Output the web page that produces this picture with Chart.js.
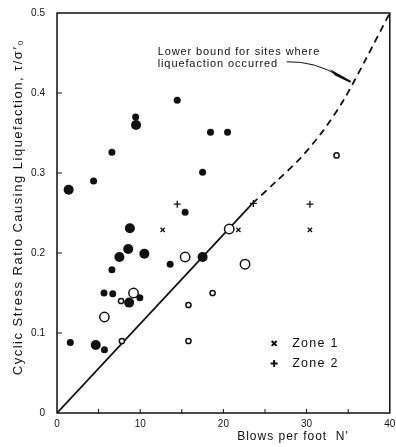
<!DOCTYPE html>
<html>
<head>
<meta charset="utf-8">
<script src="https://cdn.jsdelivr.net/npm/chart.js@4/dist/chart.umd.min.js"></script>
<style>
  html, body { margin: 0; padding: 0; background: #fff; }
  #wrap { width: 396px; height: 447px; }
</style>
</head>
<body>
<div id="wrap"><canvas id="chart" width="396" height="447"></canvas></div>
<script>
/* data: [N', tau/sigma'] */
const filledSmall = [[4.4, 0.29], [6.6, 0.326], [9.45, 0.37], [14.45, 0.391], [18.45, 0.351], [20.5, 0.351],
  [17.5, 0.301], [15.4, 0.251], [6.6, 0.179], [13.6, 0.186], [5.65, 0.15], [6.7, 0.149], [9.96, 0.144],
  [1.6, 0.088], [5.7, 0.079]];
const filledLarge = [[1.4, 0.279], [9.5, 0.36], [8.76, 0.231], [8.56, 0.205], [7.5, 0.195], [10.5, 0.199],
  [8.67, 0.138], [4.66, 0.085], [17.5, 0.195]];
const openSmall = [[7.7, 0.14], [7.8, 0.09], [18.7, 0.15], [15.8, 0.135], [15.8, 0.09], [33.6, 0.322]];
const openLarge = [[15.4, 0.195], [9.2, 0.15], [5.7, 0.12], [20.7, 0.23], [22.6, 0.186]];
const zone1 = [[12.7, 0.229], [21.8, 0.229], [30.4, 0.229]];
const zone2 = [[14.45, 0.261], [30.4, 0.261], [23.6, 0.262]];
const boundSolid = [[0, 0], [23.5, 0.262]];
const boundDashed = [[23.5, 0.262], [26.4, 0.29], [29.2, 0.318], [32, 0.353], [34.5, 0.392], [37, 0.44], [40, 0.5]];

const xTickValues = [0, 10, 20, 30, 40];
const xTickLabels = ['0', '10', '20', '30', '40'];
const xMarks = [5, 10, 15, 20, 25, 30, 35];
const yTickValues = [0, 0.1, 0.2, 0.3, 0.4, 0.5];
const yTickLabels = ['0', '0.1', '0.2', '0.3', '0.4', '0.5'];
const legendLabels = ['Zone 1', 'Zone 2'];
const noteLines = ['Lower bound for sites where', 'liquefaction occurred'];
const xTitle = "Blows per foot  N'";
const yTitle = 'Cyclic Stress Ratio Causing Liquefaction, \u03C4/\u03C3\u2032\u2080';

const ink = '#111';
const font = '"Liberation Sans", Arial, sans-serif';
const pts = arr => arr.map(p => ({ x: p[0], y: p[1] }));

/* ✅ FRAME, INNER TICKS, TITLES, NOTE, LEGEND */
const decor = {
  id: 'decor',
  afterDraw(chart) {
    const { ctx, chartArea: a, scales: { x, y } } = chart;
    ctx.save();
    ctx.strokeStyle = ink;
    ctx.fillStyle = ink;
    ctx.lineWidth = 1.5;
    ctx.strokeRect(a.left, a.top, a.right - a.left, a.bottom - a.top);

    ctx.lineWidth = 1;
    ctx.beginPath();
    xMarks.forEach(v => {
      const px = x.getPixelForValue(v);
      ctx.moveTo(px, a.bottom); ctx.lineTo(px, a.bottom - 4);
    });
    yTickValues.slice(1, -1).forEach(v => {
      const py = y.getPixelForValue(v);
      ctx.moveTo(a.left, py); ctx.lineTo(a.left + 5, py);
    });
    ctx.stroke();

    // axis titles
    ctx.letterSpacing = '1px';
    ctx.font = '12px ' + font;
    ctx.textAlign = 'center';
    ctx.textBaseline = 'middle';
    ctx.fillText(xTitle, 293, 437);
    ctx.save();
    ctx.translate(18, 207);
    ctx.rotate(-Math.PI / 2);
    ctx.letterSpacing = '1.5px';
    ctx.font = '13px ' + font;
    ctx.fillText(yTitle, 0, 0);
    ctx.restore();

    // note with leader arrow to the dashed bound
    ctx.letterSpacing = '0.9px';
    ctx.font = '11px ' + font;
    ctx.textAlign = 'left';
    const nx = x.getPixelForValue(12.1);
    noteLines.forEach((t, i) => ctx.fillText(t, nx, y.getPixelForValue(0.451) + i * 12));
    const sx = x.getPixelForValue(27.6), sy = y.getPixelForValue(0.439);
    const ex = x.getPixelForValue(35.3), ey = y.getPixelForValue(0.414);
    ctx.lineWidth = 1;
    ctx.beginPath();
    ctx.moveTo(sx, sy);
    ctx.quadraticCurveTo(sx + 28, sy - 1, ex - 10, ey - 5);
    ctx.stroke();
    ctx.beginPath();
    ctx.moveTo(ex, ey);
    ctx.lineTo(ex - 17, ey - 9.5);
    ctx.lineTo(ex - 15, ey - 7);
    ctx.closePath();
    ctx.lineWidth = 2;
    ctx.stroke();

    // legend
    ctx.letterSpacing = '1.3px';
    ctx.font = '12.5px ' + font;
    const lx = x.getPixelForValue(26.1);
    const styles = ['crossRot', 'cross'];
    legendLabels.forEach((t, i) => {
      const ly = y.getPixelForValue(0.087) + i * 20;
      Chart.helpers.drawPoint(ctx, { pointStyle: styles[i], radius: 3.5, borderWidth: 1.3 }, lx, ly);
      ctx.fillText(t, lx + 18, ly);
    });
    ctx.restore();
  }
};

new Chart(document.getElementById('chart'), {
  type: 'scatter',
  data: {
    datasets: [
      { data: pts(boundSolid), showLine: true, borderColor: ink, borderWidth: 1.8, pointRadius: 0, order: 10 },
      { data: pts(boundDashed), showLine: true, borderColor: ink, borderWidth: 1.8, borderDash: [7, 5],
        tension: 0.3, pointRadius: 0, order: 10 },
      { data: pts(filledSmall), pointRadius: 3.5, backgroundColor: ink, borderColor: ink, borderWidth: 0, order: 1 },
      { data: pts(filledLarge), pointRadius: 5, backgroundColor: ink, borderColor: ink, borderWidth: 0, order: 1 },
      { data: pts(openSmall), pointRadius: 2.6, backgroundColor: '#fff', borderColor: ink, borderWidth: 1.5, order: 1 },
      { data: pts(openLarge), pointRadius: 4.7, backgroundColor: '#fff', borderColor: ink, borderWidth: 1.5, order: 1 },
      { data: pts(zone1), pointStyle: 'crossRot', pointRadius: 3, borderColor: ink, borderWidth: 1.3, order: 1 },
      { data: pts(zone2), pointStyle: 'cross', pointRadius: 3.5, borderColor: ink, borderWidth: 1.3, order: 1 }
    ]
  },
  options: {
    responsive: false,
    animation: false,
    layout: { padding: { top: 13, right: 6, left: 0, bottom: 0 } },
    plugins: { legend: { display: false }, tooltip: { enabled: false } },
    scales: {
      x: {
        type: 'linear', min: 0, max: 40,
        afterFit: s => { s.height = 34; s.paddingLeft = 0; s.paddingRight = 0; },
        afterBuildTicks: s => { s.ticks = xTickValues.map(v => ({ value: v })); },
        ticks: { color: ink, padding: 5, font: { size: 10, family: font },
          callback: v => xTickLabels[xTickValues.indexOf(v)] },
        grid: { display: false, drawTicks: false },
        border: { display: false }
      },
      y: {
        type: 'linear', min: 0, max: 0.5,
        afterFit: s => { s.width = 57; s.paddingTop = 0; s.paddingBottom = 0; },
        afterBuildTicks: s => { s.ticks = yTickValues.map(v => ({ value: v })); },
        ticks: { color: ink, padding: 12, font: { size: 10, family: font },
          callback: v => yTickLabels[yTickValues.indexOf(v)] },
        grid: { display: false, drawTicks: false },
        border: { display: false }
      }
    }
  },
  plugins: [decor]
});
</script>
</body>
</html>
